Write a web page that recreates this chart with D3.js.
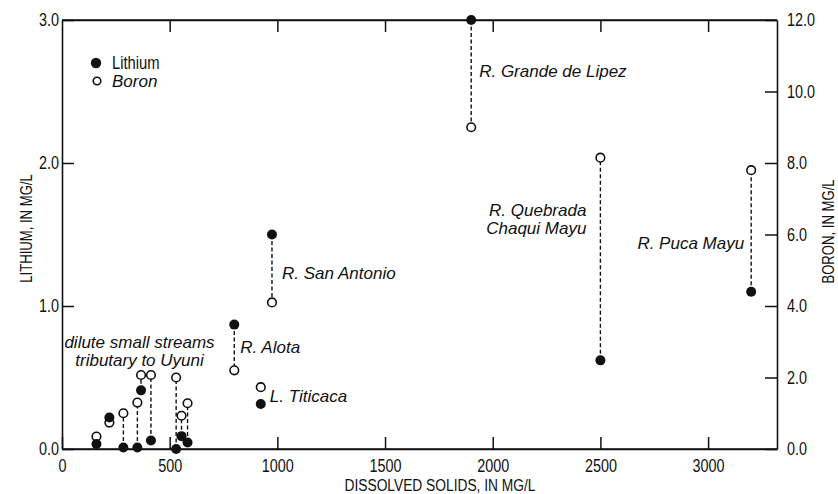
<!DOCTYPE html>
<html>
<head>
<meta charset="utf-8">
<script src="https://cdn.jsdelivr.net/npm/d3@7"></script>
<style>
  html, body { margin: 0; padding: 0; background: #fff; }
  svg { display: block; }
  .narrow { font-family: "Liberation Sans", Arial, Helvetica, sans-serif; }
  .ital { font-family: "Liberation Sans", Arial, Helvetica, sans-serif; font-style: italic; }
</style>
</head>
<body>
<svg id="chart" width="838" height="494"></svg>
<script>
// Sampling sites: dissolved solids (mg/L), lithium (mg/L), boron (mg/L)
const sites = ["s1", "s2", "s3", "s4", "s5", "s6", "s7", "s8", "s9",
               "Alota", "Titicaca", "San Antonio", "Grande de Lipez", "Quebrada Chaqui Mayu", "Puca Mayu"];
const dissolved = [160, 220, 285, 350, 367, 413, 530, 555, 583, 800, 923, 975, 1900, 2500, 3200];
const lithium   = [0.035, 0.22, 0.01, 0.01, 0.41, 0.06, 0.0, 0.09, 0.045, 0.87, 0.315, 1.5, 3.0, 0.62, 1.1];
const boron     = [0.35, 0.74, 1.0, 1.3, 2.07, 2.07, 2.0, 0.93, 1.28, 2.2, 1.73, 4.1, 9.0, 8.15, 7.8];
// pairs joined by a dashed line
const joined    = [false, false, true, true, true, true, true, true, true, true, false, true, true, true, true];

const xTicks = [0, 500, 1000, 1500, 2000, 2500, 3000];
const liTicks = [0, 1, 2, 3];
const bTicks = [0, 2, 4, 6, 8, 10, 12];

// Site annotations: text lines, anchor on the x / lithium scales, pixel shift, alignment
const notes = [
  { lines: ["R. Grande de Lipez"], x: 1900, y: 2.6, dx: 8, anchor: "start" },
  { lines: ["R. San Antonio"], x: 975, y: 1.19, dx: 10, anchor: "start" },
  { lines: ["R. Alota"], x: 800, y: 0.67, dx: 6, anchor: "start" },
  { lines: ["L. Titicaca"], x: 923, y: 0.33, dx: 9, anchor: "start" },
  { lines: ["R. Quebrada", "Chaqui Mayu"], x: 2500, y: 1.63, dx: -14, anchor: "end" },
  { lines: ["R. Puca Mayu"], x: 2500, y: 1.40, dx: 37, anchor: "start" },
  { lines: ["dilute small streams", "tributary to Uyuni"], x: 360, y: 0.705, dx: 0, anchor: "middle" }
];

const W = 838, H = 494;
const m = { left: 62, right: 61, top: 20, bottom: 45 };
const svg = d3.select("#chart");

const x = d3.scaleLinear().domain([0, 3320]).range([m.left, W - m.right]);
const yLi = d3.scaleLinear().domain([0, 3]).range([H - m.bottom, m.top]);
const yB = d3.scaleLinear().domain([0, 12]).range([H - m.bottom, m.top]);

const fmt = d3.format(".1f");
const tickLen = 12;

// condensed lettering: squeeze the natural text width
function condense(sel, ratio) {
  sel.each(function () {
    const len = this.getComputedTextLength();
    if (len > 0) {
      d3.select(this).attr("textLength", len * ratio).attr("lengthAdjust", "spacingAndGlyphs");
    }
  });
}

function styleAxis(g) {
  g.selectAll("path.domain").attr("stroke", "#111").attr("stroke-width", 1.6);
  g.selectAll(".tick line").attr("stroke", "#111").attr("stroke-width", 1.5);
  g.selectAll(".tick text").attr("class", "narrow").attr("fill", "#111").style("font-size", "18px")
    .call(condense, 0.8);
}

// bottom axis
svg.append("g")
  .attr("transform", `translate(0,${H - m.bottom})`)
  .call(d3.axisBottom(x).tickValues(xTicks).tickFormat(d3.format("d")).tickSize(-tickLen).tickSizeOuter(0).tickPadding(10))
  .call(styleAxis);

// top axis
svg.append("g")
  .attr("transform", `translate(0,${m.top})`)
  .call(d3.axisTop(x).tickValues(xTicks.slice(1)).tickFormat("").tickSize(-tickLen).tickSizeOuter(0))
  .call(styleAxis);

// left axis: lithium
svg.append("g")
  .attr("transform", `translate(${m.left},0)`)
  .call(d3.axisLeft(yLi).tickValues(liTicks).tickFormat(fmt).tickSize(-tickLen).tickSizeOuter(0).tickPadding(3))
  .call(styleAxis);

// right axis: boron
svg.append("g")
  .attr("transform", `translate(${W - m.right},0)`)
  .call(d3.axisRight(yB).tickValues(bTicks).tickFormat(fmt).tickSize(-tickLen).tickSizeOuter(0).tickPadding(10))
  .call(styleAxis);

// close the frame at the plot edges
svg.append("line").attr("x1", m.left).attr("x2", W - m.right).attr("y1", m.top).attr("y2", m.top)
  .attr("stroke", "#111").attr("stroke-width", 1.6);
svg.append("line").attr("x1", m.left).attr("x2", W - m.right).attr("y1", H - m.bottom).attr("y2", H - m.bottom)
  .attr("stroke", "#111").attr("stroke-width", 1.6);

// axis titles
svg.append("text").attr("class", "narrow")
  .attr("transform", `translate(26,${(m.top + H - m.bottom) / 2 - 6}) rotate(-90)`)
  .attr("text-anchor", "middle").attr("dominant-baseline", "central")
  .style("font-size", "16px").attr("fill", "#111").text("LITHIUM, IN MG/L")
  .call(condense, 0.82);

svg.append("text").attr("class", "narrow")
  .attr("transform", `translate(828,${(m.top + H - m.bottom) / 2 - 3}) rotate(-90)`)
  .attr("text-anchor", "middle").attr("dominant-baseline", "central")
  .style("font-size", "16px").attr("fill", "#111").text("BORON, IN MG/L")
  .call(condense, 0.82);

svg.append("text").attr("class", "narrow")
  .attr("x", 440).attr("y", 490.5)
  .attr("text-anchor", "middle")
  .style("font-size", "16px").attr("fill", "#111").text("DISSOLVED SOLIDS, IN MG/L")
  .call(condense, 0.86);

// records
const rows = sites.map((s, i) => ({ site: s, x: dissolved[i], li: lithium[i], b: boron[i], join: joined[i] }));

// dashed connectors between the lithium and boron values of a site
svg.append("g").selectAll("line")
  .data(rows.filter(d => d.join))
  .join("line")
  .attr("x1", d => x(d.x)).attr("x2", d => x(d.x))
  .attr("y1", d => yLi(d.li)).attr("y2", d => yB(d.b))
  .attr("stroke", "#111").attr("stroke-width", 1.4)
  .attr("stroke-dasharray", "4,2.5");

// boron: open circles
svg.append("g").selectAll("circle")
  .data(rows)
  .join("circle")
  .attr("cx", d => x(d.x)).attr("cy", d => yB(d.b)).attr("r", 4.3)
  .attr("fill", "#fff").attr("stroke", "#111").attr("stroke-width", 1.6);

// lithium: filled circles
svg.append("g").selectAll("circle")
  .data(rows)
  .join("circle")
  .attr("cx", d => x(d.x)).attr("cy", d => yLi(d.li)).attr("r", 5)
  .attr("fill", "#111");

// legend
const lg = svg.append("g");
lg.append("circle").attr("cx", 96).attr("cy", 63).attr("r", 5.2).attr("fill", "#111");
lg.append("text").attr("class", "narrow").attr("x", 112).attr("y", 69)
  .style("font-size", "18px").attr("fill", "#111").text("Lithium")
  .call(condense, 0.82);
lg.append("circle").attr("cx", 97).attr("cy", 81).attr("r", 3.8)
  .attr("fill", "#fff").attr("stroke", "#111").attr("stroke-width", 1.6);
lg.append("text").attr("class", "ital").attr("x", 112).attr("y", 87)
  .style("font-size", "17px").attr("fill", "#111").text("Boron");

// site annotations
notes.forEach(n => {
  const t = svg.append("text").attr("class", "ital")
    .attr("text-anchor", n.anchor)
    .style("font-size", "17px").attr("fill", "#111");
  n.lines.forEach((line, k) => {
    t.append("tspan")
      .attr("x", x(n.x) + n.dx)
      .attr("y", yLi(n.y) + k * 18)
      .text(line);
  });
});
</script>
</body>
</html>
